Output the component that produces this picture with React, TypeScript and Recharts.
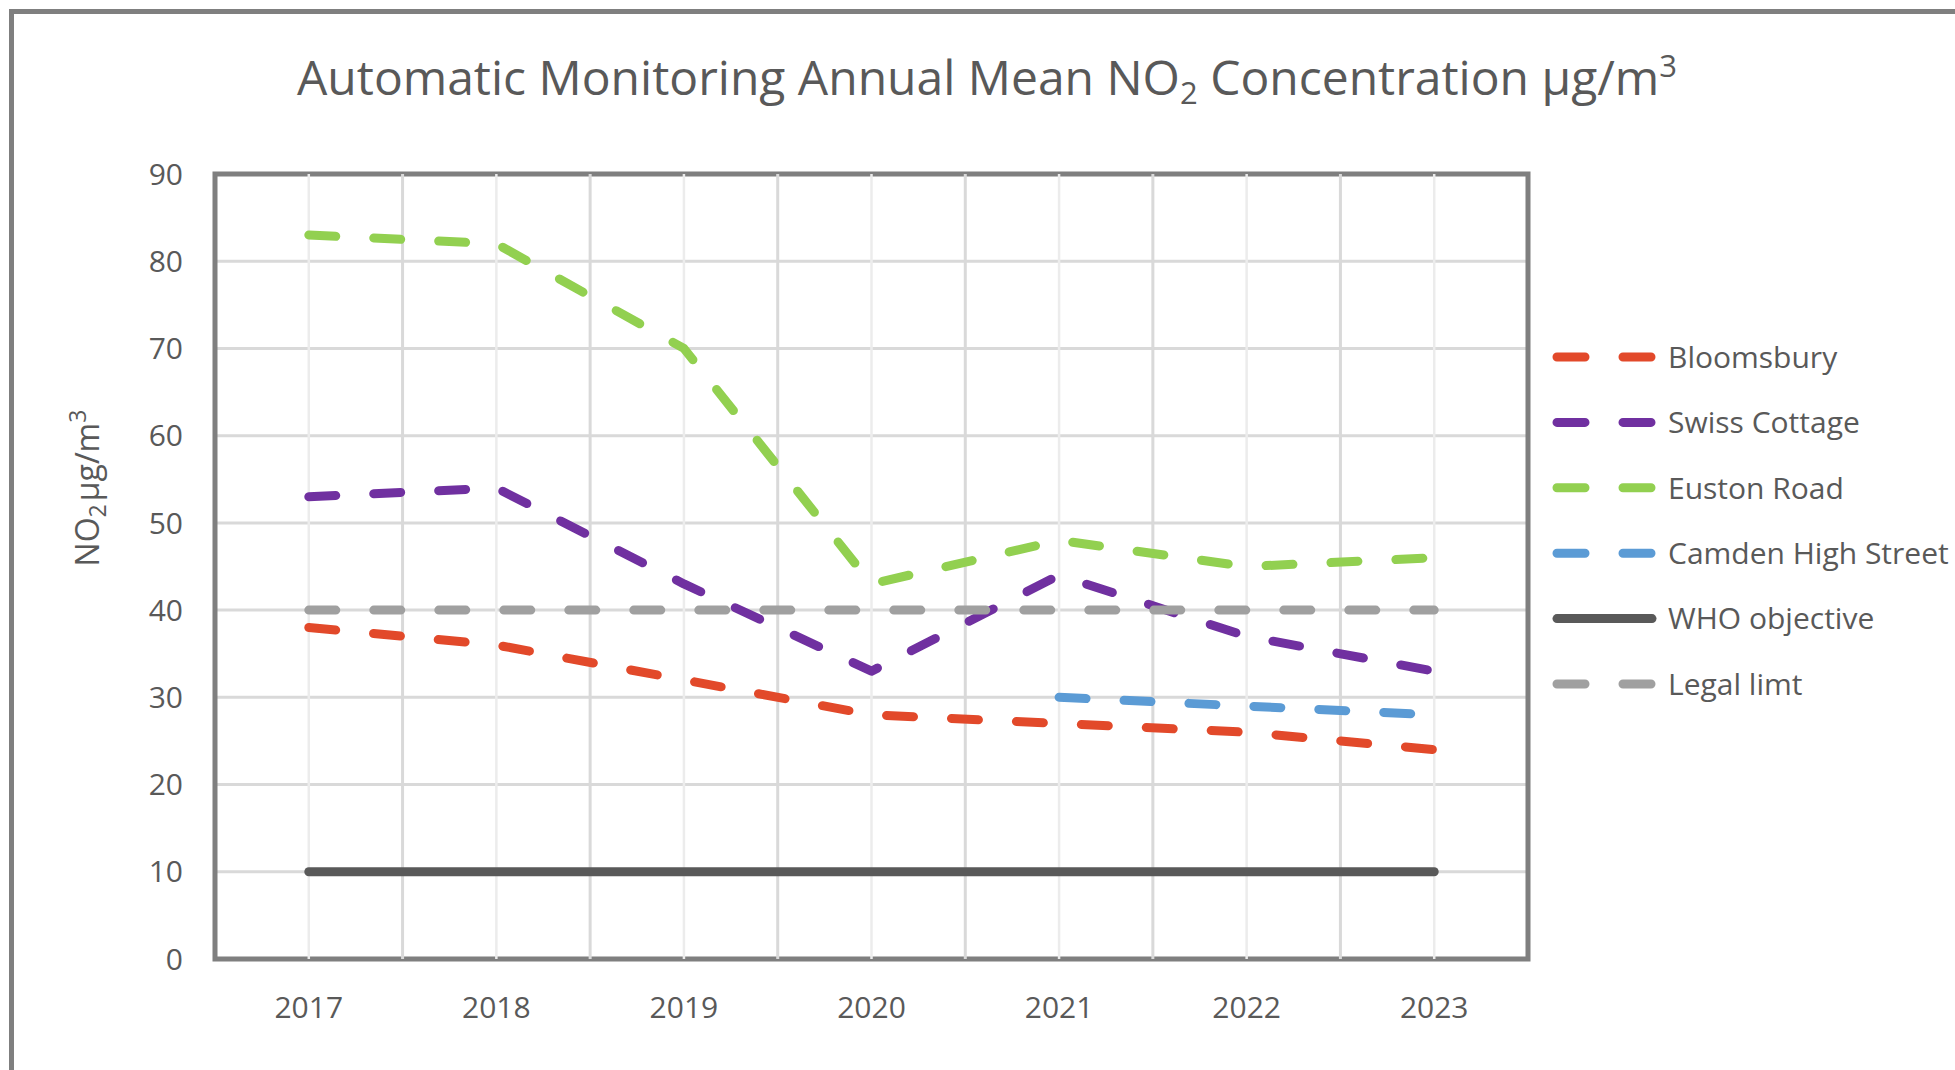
import React from "react";
import {
  LineChart,
  Line,
  XAxis,
  YAxis,
  CartesianGrid,
  ReferenceLine,
  ReferenceArea
} from "recharts";

const years = [2017, 2018, 2019, 2020, 2021, 2022, 2023];
const bloomsbury = [38, 36, 32, 28, 27, 26, 24];
const swissCottage = [53, 54, 43, 33, 44, 37, 33];
const eustonRoad = [83, 82, 70, 43, 48, 45, 46];
const camdenHighStreet = [null, null, null, null, 30, 29, 28];
const whoObjective = [10, 10, 10, 10, 10, 10, 10];
const legalLimit = [40, 40, 40, 40, 40, 40, 40];
const yTicks = [0, 10, 20, 30, 40, 50, 60, 70, 80, 90];

const series = [
  { key: "bloomsbury", name: "Bloomsbury", color: "#E2492A", dashed: true },
  { key: "swiss", name: "Swiss Cottage", color: "#7030A0", dashed: true },
  { key: "euston", name: "Euston Road", color: "#92D050", dashed: true },
  { key: "camden", name: "Camden High Street", color: "#5B9BD5", dashed: true },
  { key: "who", name: "WHO objective", color: "#595959", dashed: false },
  { key: "legal", name: "Legal limt", color: "#A0A0A0", dashed: true }
];

const data = years.map((year, i) => ({
  year,
  bloomsbury: bloomsbury[i],
  swiss: swissCottage[i],
  euston: eustonRoad[i],
  camden: camdenHighStreet[i],
  who: whoObjective[i],
  legal: legalLimit[i]
}));

// category edges sit half a year either side of each label
const halfYears = years.slice(1).map((y) => y - 0.5);
const xMin = years[0] - 0.5;
const xMax = years[years.length - 1] + 0.5;

const TEXT = "#595959";
const FONT = "'Open Sans', sans-serif";

const LegendBox = () => (
  <svg
    width={415}
    height={400}
    style={{ position: "absolute", left: 1540, top: 320, fontFamily: FONT }}
  >
    {series.map((s, i) => {
      const y = 37 + i * 65.4;
      return (
        <g key={s.key}>
          <line
            x1={17}
            x2={112}
            y1={y}
            y2={y}
            stroke={s.color}
            strokeWidth={9}
            strokeLinecap="round"
            strokeDasharray={s.dashed ? "28 38" : undefined}
          />
          <text x={128} y={y} dy="0.357em" fontSize={30} fill={TEXT}>
            {s.name}
          </text>
        </g>
      );
    })}
  </svg>
);

export default function App() {
  return (
    <div
      style={{
        position: "absolute",
        left: 0,
        top: 0,
        width: 1955,
        height: 1070,
        overflow: "hidden",
        background: "#fff",
        fontFamily: FONT
      }}
    >
      <div
        style={{
          position: "absolute",
          left: 9,
          top: 9,
          width: 2100,
          height: 1200,
          border: "5px solid #7f7f7f"
        }}
      />
      <div style={{ position: "absolute", left: 0, top: 0 }}>
        <LineChart
          width={1955}
          height={1070}
          data={data}
          margin={{ top: 174, right: 427, bottom: 0, left: 0 }}
        >
          <CartesianGrid vertical={false} stroke="#d9d9d9" strokeWidth={3} />
          {years.map((y) => (
            <ReferenceLine key={"y" + y} x={y} stroke="#ececec" strokeWidth={2.5} />
          ))}
          {halfYears.map((y) => (
            <ReferenceLine key={"h" + y} x={y} stroke="#d9d9d9" strokeWidth={3} />
          ))}
          <XAxis
            dataKey="year"
            type="number"
            domain={[xMin, xMax]}
            ticks={years}
            height={111}
            axisLine={false}
            tickLine={false}
            tickSize={0}
            tickMargin={38}
            tick={{ fill: TEXT, fontSize: 30, fontFamily: FONT }}
          />
          <YAxis
            domain={[0, 90]}
            ticks={yTicks}
            width={215}
            axisLine={false}
            tickLine={false}
            tickSize={0}
            tickMargin={32}
            tick={{ fill: TEXT, fontSize: 30, fontFamily: FONT }}
          />
          <ReferenceArea
            x1={xMin}
            x2={xMax}
            y1={0}
            y2={90}
            fill="none"
            stroke="#7f7f7f"
            strokeWidth={5}
          />
          {series.map((s) => (
            <Line
              key={s.key}
              type="linear"
              dataKey={s.key}
              name={s.name}
              stroke={s.color}
              strokeWidth={9}
              strokeDasharray={s.dashed ? "27 38" : undefined}
              strokeLinecap="round"
              strokeLinejoin="round"
              dot={false}
              activeDot={false}
              isAnimationActive={false}
            />
          ))}
        </LineChart>
      </div>
      <LegendBox />
      <svg
        width={1955}
        height={1070}
        style={{ position: "absolute", left: 0, top: 0, pointerEvents: "none", fontFamily: FONT }}
      >
        <text x={987} y={95} textAnchor="middle" fontSize={48} fill={TEXT}>
          <tspan>Automatic Monitoring Annual Mean NO</tspan>
          <tspan fontSize={31} dy={9}>2</tspan>
          <tspan dy={-9}> Concentration µg/m</tspan>
          <tspan fontSize={31} dy={-18}>3</tspan>
        </text>
        <text
          x={99}
          y={488}
          textAnchor="middle"
          fontSize={32}
          fill={TEXT}
          transform="rotate(-90 99 488)"
        >
          <tspan>NO</tspan>
          <tspan fontSize={23} dy={7}>2</tspan>
          <tspan dy={-7} dx={3}>µg/m</tspan>
          <tspan fontSize={23} dy={-13}>3</tspan>
        </text>
      </svg>
    </div>
  );
}
